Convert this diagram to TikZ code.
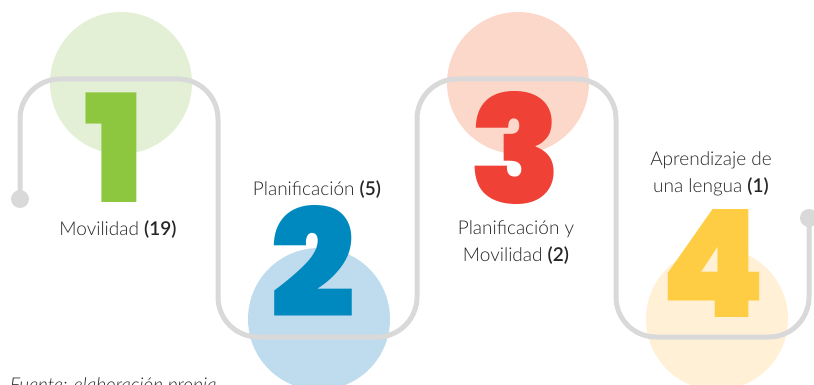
\documentclass[tikz,border=0pt]{standalone}
\usepackage{fontspec}
\setmainfont{Lato}[UprightFont={* Light}, ItalicFont={* Light Italic}]
\newfontfamily\digitfont{Poppins}[UprightFont={* Black}]
\usetikzlibrary{positioning}

\definecolor{trackgray}{HTML}{D9D9D9}
\definecolor{greenfull}{HTML}{8DC63F}
\definecolor{greenlight}{HTML}{E3F0D6}
\definecolor{bluefull}{HTML}{0089BF}
\definecolor{bluelight}{HTML}{BEDCEE}
\definecolor{redfull}{HTML}{EF4136}
\definecolor{redlight}{HTML}{FCD8CB}
\definecolor{yellowfull}{HTML}{FFCD44}
\definecolor{yellowlight}{HTML}{FFF0D6}

\begin{document}
\begin{tikzpicture}[x=1pt, y=-1pt, node distance=236pt,
  bubble/.style={circle, minimum size=142pt, inner sep=0pt},
  digit/.style={anchor=base, inner sep=0pt, text height=104pt, text depth=0pt, font=\digitfont\fontsize{150}{150}\selectfont},
  label/.style={anchor=base, align=center, inner sep=0pt, text=black!85, font=\fontsize{19}{27}\selectfont},
  track/.style={draw=trackgray, line width=5pt, rounded corners=40pt},
  enddot/.style={circle, fill=trackgray, minimum size=18pt, inner sep=0pt}]

  \path[use as bounding box, clip] (0,0) rectangle (814,385);

  % Background circles
  \node[bubble, fill=greenlight] (C1) at (121,83) {};
  \node[bubble, fill=bluelight, below of=C1, xshift=198pt] (C2) {};
  \node[bubble, fill=redlight] (C3) at (518,83) {};
  \node[bubble, fill=yellowlight, below of=C3, xshift=199pt] (C4) {};

  % Track with its two end dots
  \node[enddot] (S) at (20,199) {};
  \node[enddot] (E) at (809,218) {};
  \draw[track] (S.center) -- (20,79) -- (218,79) -- (218,337) -- (417,337)
    -- (417,79) -- (616,79) -- (616,337) -- (809,337) -- (E.center);

  % Numbers
  \node[digit, text=greenfull] (N1) at (114,202) {1};
  \node[digit, text=bluefull] (N2) at (313,317) {2};
  \node[digit, text=redfull] (N3) at (516,203) {3};
  \node[digit, text=yellowfull] (N4) at (713,317) {4};

  % Labels (base sits on the last line)
  \node[label] (L1) at (118,235) {Movilidad \textbf{(19)}};
  \node[label] (L2) at (317,196) {Planificación \textbf{(5)}};
  \node[label] (L3) at (516,261) {Planificación y\\Movilidad \textbf{(2)}};
  \node[label] (L4) at (711,193) {Aprendizaje de\\una lengua \textbf{(1)}};

  % Source note
  \node[anchor=base west, inner sep=0pt, text=black!85, font=\itshape\fontsize{19}{22}\selectfont] (F) at (10,391) {Fuente: elaboración propia};

\end{tikzpicture}
\end{document}
